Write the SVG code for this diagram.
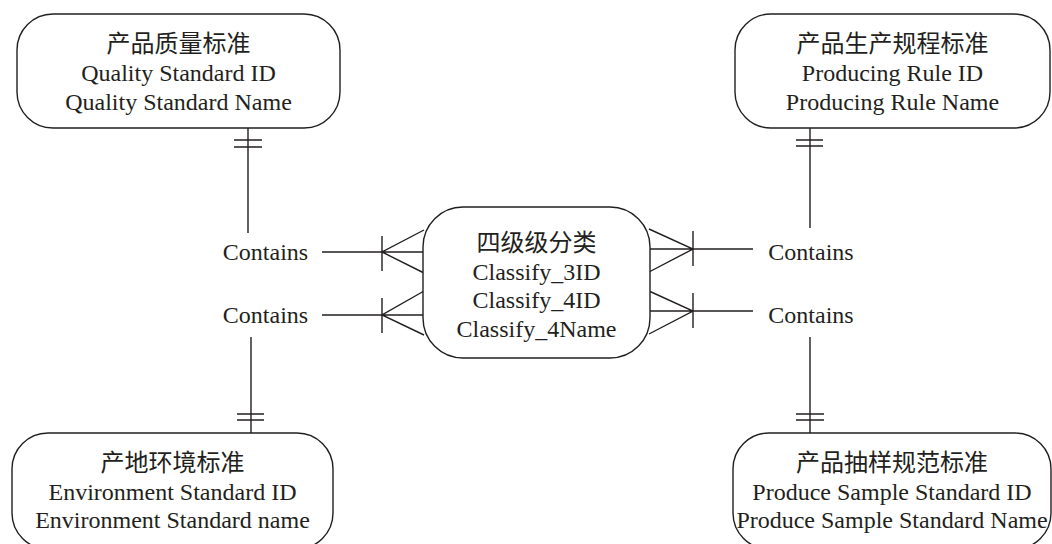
<svg xmlns="http://www.w3.org/2000/svg" width="1052" height="544" viewBox="0 0 1052 544">
<style>
.box{fill:#fff;stroke:#231f20;stroke-width:1.4}
.ln{fill:none;stroke:#231f20;stroke-width:1.4}
text{font-family:"Liberation Serif","Noto Sans CJK SC",serif;font-size:24px;fill:#231f20;text-anchor:middle}
</style>
<rect width="1052" height="544" fill="#fff"/>
<g id="connectors">
<!-- top-left -->
<path class="ln" d="M248 128V233M234 140H262M234 147H262"/>
<!-- bottom-left -->
<path class="ln" d="M251 337V433M237 414H264M237 420H264"/>
<!-- top-right -->
<path class="ln" d="M810 128V228M796 140H823M796 146H823"/>
<!-- bottom-right -->
<path class="ln" d="M810 337V433M796 414H824M796 420H824"/>
<!-- left crow's feet -->
<path class="ln" d="M322 252H426M382 236V271M424 230L382 252L424 273"/>
<path class="ln" d="M322 315H426M382 298V333M424 291L382 315L424 335"/>
<!-- right crow's feet -->
<path class="ln" d="M647 249H753M693 231V266M649 229L693 249L649 272"/>
<path class="ln" d="M647 311H753M693 293V328M649 291L693 311L649 334"/>
</g>
<g id="label-contains-1"><text x="265.5" y="260">Contains</text></g>
<g id="label-contains-2"><text x="265.5" y="323">Contains</text></g>
<g id="label-contains-3"><text x="811" y="260">Contains</text></g>
<g id="label-contains-4"><text x="811" y="323">Contains</text></g>
<g id="node-quality">
<rect class="box" x="17" y="14" width="323" height="114" rx="36"/>
<text x="178.5" y="52">产品质量标准</text>
<text x="178.5" y="81">Quality Standard ID</text>
<text x="178.5" y="110">Quality Standard Name</text>
</g>
<g id="node-producing">
<rect class="box" x="735" y="14" width="315" height="114" rx="36"/>
<text x="892.5" y="52">产品生产规程标准</text>
<text x="892.5" y="81">Producing Rule ID</text>
<text x="892.5" y="110">Producing Rule Name</text>
</g>
<g id="node-classify">
<rect class="box" x="423" y="207" width="227" height="151" rx="40"/>
<text x="536.5" y="251">四级级分类</text>
<text x="536.5" y="280">Classify_3ID</text>
<text x="536.5" y="308">Classify_4ID</text>
<text x="536.5" y="337">Classify_4Name</text>
</g>
<g id="node-environment">
<rect class="box" x="12" y="433" width="321" height="116" rx="36"/>
<text x="172.5" y="471">产地环境标准</text>
<text x="172.5" y="500">Environment Standard ID</text>
<text x="172.5" y="528">Environment Standard name</text>
</g>
<g id="node-sample">
<rect class="box" x="733" y="433" width="318" height="116" rx="36"/>
<text x="892" y="471">产品抽样规范标准</text>
<text x="892" y="500">Produce Sample Standard ID</text>
<text x="892" y="528">Produce Sample Standard Name</text>
</g>
</svg>
